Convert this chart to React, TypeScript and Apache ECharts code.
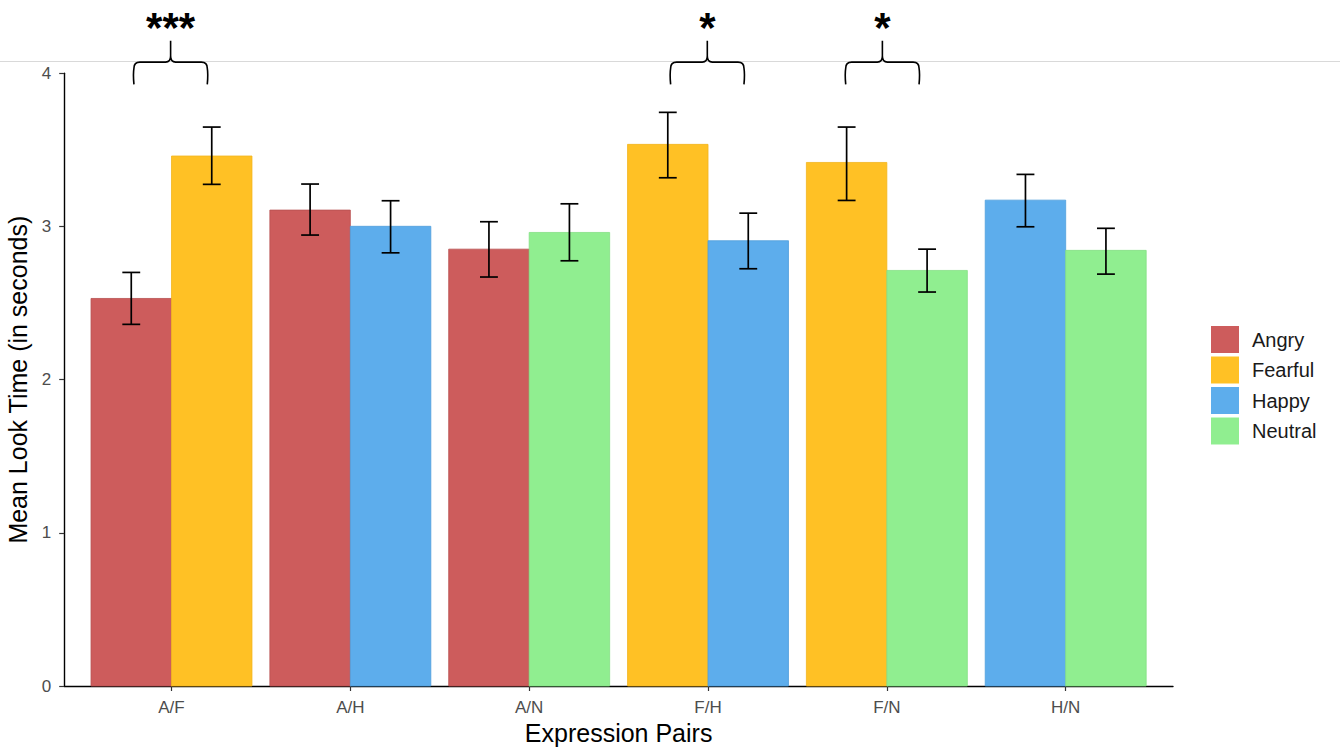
import React, { useEffect, useRef } from "react";
import * as echarts from "echarts";

const categories = ["A/F", "A/H", "A/N", "F/H", "F/N", "H/N"];
const emotions = ["Angry", "Fearful", "Happy", "Neutral"];
const emotionColors = ["#CD5C5C", "#FFC125", "#5DADEC", "#90EE90"];
const emotionStrokes = ["#B85050", "#F2B51E", "#4F9EDC", "#84E084"];

// side: 0 = left bar of the pair, 1 = right bar
const angryPairs = ["A/F", "A/H", "A/N"];
const angrySides = [0, 0, 0];
const angryMeans = [2.53, 3.107, 2.852];
const angryLower = [2.361, 2.944, 2.67];
const angryUpper = [2.7, 3.277, 3.031];

const fearfulPairs = ["A/F", "F/H", "F/N"];
const fearfulSides = [1, 0, 0];
const fearfulMeans = [3.46, 3.536, 3.418];
const fearfulLower = [3.275, 3.318, 3.17];
const fearfulUpper = [3.649, 3.745, 3.649];

const happyPairs = ["A/H", "F/H", "H/N"];
const happySides = [1, 1, 0];
const happyMeans = [3.001, 2.907, 3.172];
const happyLower = [2.828, 2.724, 2.998];
const happyUpper = [3.168, 3.087, 3.34];

const neutralPairs = ["A/N", "F/N", "H/N"];
const neutralSides = [1, 1, 1];
const neutralMeans = [2.961, 2.713, 2.844];
const neutralLower = [2.776, 2.572, 2.689];
const neutralUpper = [3.148, 2.852, 2.988];

const sigPairs = ["A/F", "F/H", "F/N"];
const sigLabels = ["***", "*", "*"];
const sigShift = [-0.005, -0.004, -0.025];

const yTicks = [0, 1, 2, 3, 4];

const FONT = '"Liberation Sans", Arial, sans-serif';
const BAR_HALF = 0.225;

function buildData(pairs: string[], sides: number[], means: number[], lo: number[], hi: number[]) {
  return pairs.map((p, i) => [
    categories.indexOf(p) + 1 + (sides[i] ? BAR_HALF : -BAR_HALF),
    means[i],
    lo[i],
    hi[i],
  ]);
}

const emotionData = [
  buildData(angryPairs, angrySides, angryMeans, angryLower, angryUpper),
  buildData(fearfulPairs, fearfulSides, fearfulMeans, fearfulLower, fearfulUpper),
  buildData(happyPairs, happySides, happyMeans, happyLower, happyUpper),
  buildData(neutralPairs, neutralSides, neutralMeans, neutralLower, neutralUpper),
];

export default function App() {
  const ref = useRef<HTMLDivElement>(null);
  useEffect(() => {
    if (!ref.current) return;
    const chart = echarts.init(ref.current, null, { renderer: "svg" });

    const barSeries = emotions.map((name, k) => ({
      type: "custom",
      name,
      itemStyle: { color: emotionColors[k] },
      encode: { x: 0, y: 1 },
      data: emotionData[k],
      renderItem: (params: any, api: any) => {
        const xc = api.value(0);
        const mean = api.value(1);
        const lo = api.value(2);
        const hi = api.value(3);
        const p1 = api.coord([xc - BAR_HALF, mean]);
        const p2 = api.coord([xc + BAR_HALF, 0]);
        const top = api.coord([xc, hi]);
        const bot = api.coord([xc, lo]);
        const capHalf = api.coord([xc + 0.05, 0])[0] - api.coord([xc, 0])[0];
        const errStyle = { stroke: "#000", lineWidth: 1.7, fill: "none" };
        return {
          type: "group",
          children: [
            {
              type: "rect",
              shape: { x: p1[0], y: p1[1], width: p2[0] - p1[0], height: p2[1] - p1[1] },
              style: { fill: emotionColors[k], stroke: emotionStrokes[k], lineWidth: 0.8 },
            },
            { type: "line", shape: { x1: top[0], y1: top[1], x2: bot[0], y2: bot[1] }, style: errStyle },
            { type: "line", shape: { x1: top[0] - capHalf, y1: top[1], x2: top[0] + capHalf, y2: top[1] }, style: errStyle },
            { type: "line", shape: { x1: bot[0] - capHalf, y1: bot[1], x2: bot[0] + capHalf, y2: bot[1] }, style: errStyle },
          ],
        };
      },
    }));

    const braceSeries = {
      type: "custom",
      name: "sig",
      clip: false,
      encode: { x: 0, y: 1 },
      data: sigPairs.map((p, i) => [categories.indexOf(p) + 1 + sigShift[i], 4.073, sigLabels[i]]),
      renderItem: (params: any, api: any) => {
        const xc = api.value(0);
        const i = params.dataIndex;
        const c = api.coord([xc, api.value(1)]);
        const legBottom = api.coord([xc, 3.928])[1];
        const peak = api.coord([xc, 4.212])[1];
        const hw = api.coord([xc + 0.205, 0])[0] - api.coord([xc, 0])[0];
        const cx = c[0];
        const yh = c[1];
        const r = 6;
        const L = cx - hw;
        const R = cx + hw;
        const d =
          `M${L},${legBottom} Q${L - 1},${yh + 12} ${L},${yh + r} Q${L},${yh} ${L + r},${yh} L${cx - 5},${yh} Q${cx},${yh} ${cx},${yh - 6} L${cx},${peak} ` +
          `M${cx},${yh - 6} Q${cx},${yh} ${cx + 5},${yh} L${R - r},${yh} Q${R},${yh} ${R},${yh + r} Q${R + 1},${yh + 12} ${R},${legBottom}`;
        return {
          type: "group",
          children: [
            { type: "path", shape: { pathData: d }, style: { fill: "none", stroke: "#000", lineWidth: 1.6 } },
            {
              type: "text",
              x: cx,
              y: peak - 13,
              style: {
                text: sigLabels[i],
                font: `bold 42px ${FONT}`,
                fill: "#000",
                align: "center",
                verticalAlign: "middle",
                textAlign: "center",
                textVerticalAlign: "middle",
              },
            },
          ],
        };
      },
    };

    chart.setOption({
      animation: false,
      textStyle: { fontFamily: FONT },
      graphic: [
        {
          type: "line",
          z: -1,
          shape: { x1: 0, y1: 61.5, x2: 1340, y2: 61.5 },
          style: { stroke: "#d9d9d9", lineWidth: 1 },
        },
      ],
      grid: { left: 64.2, right: 167, top: 73.3, bottom: 67, containLabel: false, outerBoundsMode: "none" },
      legend: {
        orient: "vertical",
        left: 1211,
        top: 326,
        padding: 0,
        itemWidth: 28,
        itemHeight: 27,
        itemGap: 3.5,
        icon: "rect",
        selectedMode: false,
        data: emotions.map((n, k) => ({ name: n, icon: "rect", itemStyle: { color: emotionColors[k] } })),
        textStyle: { fontSize: 20, color: "#1a1a1a", fontFamily: FONT, padding: [0, 0, 0, 8] },
      },
      xAxis: {
        type: "value",
        min: 0.4,
        max: 6.6,
        name: "Expression Pairs",
        nameLocation: "middle",
        nameGap: 33,
        nameTextStyle: { fontSize: 25, color: "#000", fontFamily: FONT },
        splitLine: { show: false },
        axisLine: { show: true, onZero: false, lineStyle: { color: "#000", width: 1.4 } },
        axisTick: { show: true, length: 5, customValues: categories.map((_, i) => i + 1), lineStyle: { color: "#333", width: 1.2 } },
        axisLabel: {
          customValues: categories.map((_, i) => i + 1),
          formatter: (v: number) => categories[Math.round(v) - 1] ?? "",
          fontSize: 17,
          color: "#4d4d4d",
          margin: 13,
        },
      },
      yAxis: {
        type: "value",
        min: 0,
        max: 4,
        interval: 1,
        name: "Mean Look Time (in seconds)",
        nameLocation: "middle",
        nameGap: 26,
        nameTextStyle: { fontSize: 25, color: "#000", fontFamily: FONT },
        splitLine: { show: false },
        axisLine: { show: true, lineStyle: { color: "#000", width: 1.4 } },
        axisTick: { show: true, length: 5, lineStyle: { color: "#333", width: 1.2 } },
        axisLabel: {
          fontSize: 17,
          color: "#4d4d4d",
          margin: 13,
          formatter: (v: number) => (yTicks.includes(v) ? String(v) : ""),
        },
      },
      series: [...barSeries, braceSeries],
    });
    return () => chart.dispose();
  }, []);
  return <div ref={ref} style={{ position: "absolute", left: 0, top: 0, width: 1340, height: 753 }} />;
}
